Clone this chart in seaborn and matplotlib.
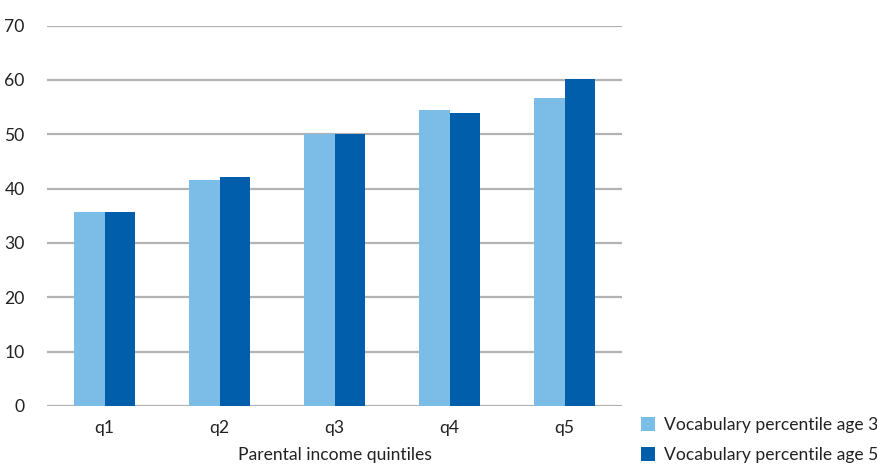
import matplotlib
matplotlib.use("Agg")
import matplotlib.pyplot as plt
import seaborn as sns
import pandas as pd
from matplotlib.patches import Patch

quintiles = ["q1", "q2", "q3", "q4", "q5"]
age3 = [35.6, 41.5, 50.1, 54.4, 56.6]
age5 = [35.6, 42.1, 50.0, 53.9, 60.2]
series_names = ["Vocabulary percentile age 3", "Vocabulary percentile age 5"]
colors = ["#7CBDE8", "#005EAA"]
yticks = [0, 10, 20, 30, 40, 50, 60, 70]

df = pd.DataFrame({
    "quintile": quintiles * 2,
    "value": age3 + age5,
    "series": [series_names[0]] * len(quintiles) + [series_names[1]] * len(quintiles),
})

sns.set_theme(style="white")
plt.rcParams["font.family"] = ["Lato", "DejaVu Sans"]
FS = 12.6
TXT = "#222222"

fig = plt.figure(figsize=(8.77, 4.66), dpi=100)
ax = fig.add_axes([47 / 877, 1 - 406 / 466, (622 - 47) / 877, (406 - 25.5) / 466])

sns.barplot(data=df, x="quintile", y="value", hue="series", palette=colors,
            width=0.53, saturation=1, ax=ax, legend=False, zorder=3,
            edgecolor="none", linewidth=0)

ax.set_ylim(0, 70)
ax.set_xlim(-0.5, 4.5)
ax.set_yticks(yticks)
ax.yaxis.grid(True, color="#B3B3B3", linewidth=1.6, zorder=0)
ax.set_axisbelow(True)
for s in ax.spines.values():
    s.set_visible(False)
ax.tick_params(axis="both", length=0, labelsize=FS, colors=TXT)
ax.tick_params(axis="y", pad=16)
ax.tick_params(axis="x", pad=10)
ax.set_ylabel("")
ax.set_xlabel("Parental income quintiles", fontsize=FS, color=TXT, labelpad=8)

handles = [Patch(facecolor=c, edgecolor="none") for c in colors]
fig.legend(handles, series_names, loc="upper left", bbox_to_anchor=(641 / 877, 1 - 417 / 466),
           frameon=False, fontsize=FS, handlelength=0.8, handleheight=0.8,
           handletextpad=0.5, labelspacing=0.8, borderaxespad=0, borderpad=0,
           labelcolor=TXT)

fig.savefig("out.png", dpi=100)
